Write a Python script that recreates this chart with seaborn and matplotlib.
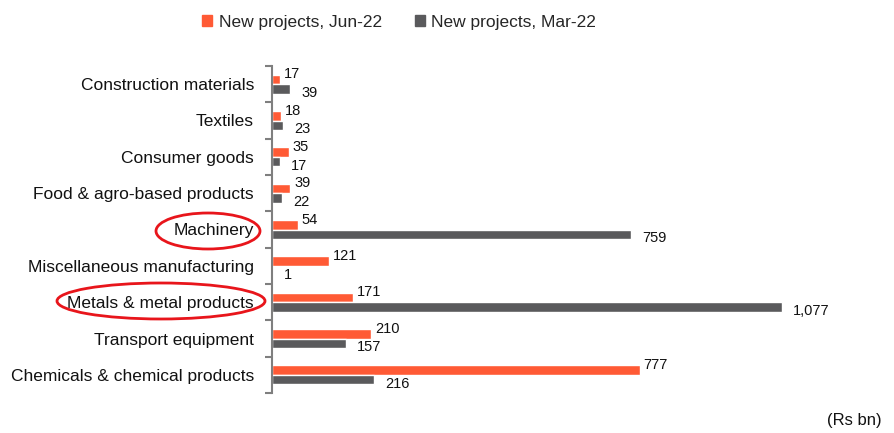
import matplotlib
matplotlib.use("Agg")
import matplotlib.pyplot as plt
from matplotlib.patches import Ellipse
import seaborn as sns
import pandas as pd

categories = [
    "Construction materials",
    "Textiles",
    "Consumer goods",
    "Food & agro-based products",
    "Machinery",
    "Miscellaneous manufacturing",
    "Metals & metal products",
    "Transport equipment",
    "Chemicals & chemical products",
]
jun22 = [17, 18, 35, 39, 54, 121, 171, 210, 777]
mar22 = [39, 23, 17, 22, 759, 1, 1077, 157, 216]
series_names = ["New projects, Jun-22", "New projects, Mar-22"]
highlighted = ["Machinery", "Metals & metal products"]
unit_label = "(Rs bn)"

colors = ["#FF5A35", "#5A5A5C"]

sns.set_style("white")
plt.rcParams["font.family"] = ["Liberation Sans", "DejaVu Sans"]

df = pd.DataFrame({
    "category": categories * 2,
    "value": jun22 + mar22,
    "series": [series_names[0]] * len(categories) + [series_names[1]] * len(categories),
})

W, H = 894, 433
fig = plt.figure(figsize=(W / 100, H / 100), dpi=100)
ax_left, ax_right, ax_top, ax_bottom = 272, 860, 66, 393
ax = fig.add_axes([ax_left / W, 1 - ax_bottom / H, (ax_right - ax_left) / W, (ax_bottom - ax_top) / H])

sns.barplot(data=df, y="category", x="value", hue="series", order=categories,
            hue_order=series_names, palette=colors, orient="h", width=0.52, gap=0,
            saturation=1, ax=ax, legend=False)

xmax = (ax_right - ax_left - 1) / (781.7 - 273) * 1077
ax.set_xlim(0, xmax)
ax.set_ylim(len(categories) - 0.5, -0.5)
ax.set_xlabel("")
ax.set_ylabel("")
ax.set_xticks([])
for s in ["top", "right", "bottom"]:
    ax.spines[s].set_visible(False)
ax.spines["left"].set_color("#7F7F7F")
ax.spines["left"].set_linewidth(1.5)
ax.set_yticks(range(len(categories)))
ax.set_yticklabels(categories, fontsize=12.5, color="#111111")
ax.tick_params(axis="y", which="major", left=True, length=0, pad=13)
ax.set_yticks([i - 0.5 for i in range(len(categories) + 1)], minor=True)
ax.tick_params(axis="y", which="minor", left=True, length=5, width=1.5,
               color="#7F7F7F", direction="out")

# value labels
for i, (a, b) in enumerate(zip(jun22, mar22)):
    ax.annotate(f"{a:,}", (a, i - 0.13), xytext=(4, 5), textcoords="offset pixels",
                ha="left", va="center", fontsize=10.5, color="#111111")
    ax.annotate(f"{b:,}", (b, i + 0.13), xytext=(11, -4), textcoords="offset pixels",
                ha="left", va="center", fontsize=10.5, color="#111111")

# legend
handles = [plt.Rectangle((0, 0), 1, 1, color=c) for c in colors]
fig.legend(handles, series_names, loc="center", bbox_to_anchor=(399 / W, 1 - 22 / H),
           ncol=2, frameon=False, fontsize=12.5, handlelength=0.6, handleheight=0.6,
           handletextpad=0.35, columnspacing=1.9)

# highlight ellipses around labels
ellipses = [((208, 231), 104, 36), ((161, 301), 208, 36)]
for (cx, cy), w, h in ellipses:
    e = Ellipse((cx / W, 1 - cy / H), w / W, h / H, transform=fig.transFigure,
                fill=False, edgecolor="#E8151B", linewidth=2)
    fig.patches.append(e)

fig.text(882 / W, 1 - 421 / H, unit_label, ha="right", va="center", fontsize=12, color="#111111")

fig.savefig("out.png", dpi=100)
